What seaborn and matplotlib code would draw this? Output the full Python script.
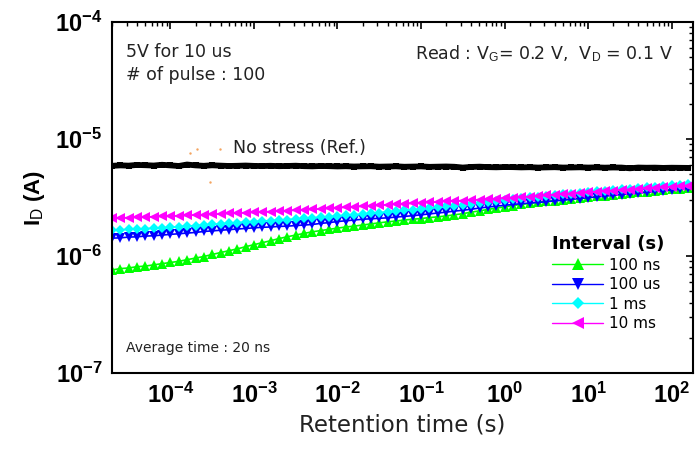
import numpy as np
import pandas as pd
import matplotlib
matplotlib.use("Agg")
import matplotlib.pyplot as plt
from matplotlib.ticker import FixedLocator, FuncFormatter, NullFormatter
import seaborn as sns

# Retention time (s)
time_s = [2.00e-5, 2.51e-5, 3.16e-5, 3.98e-5, 5.01e-5, 6.31e-5, 7.94e-5,
          1.00e-4, 1.26e-4, 1.58e-4, 2.00e-4, 2.51e-4, 3.16e-4, 3.98e-4, 5.01e-4, 6.31e-4, 7.94e-4,
          1.00e-3, 1.26e-3, 1.58e-3, 2.00e-3, 2.51e-3, 3.16e-3, 3.98e-3, 5.01e-3, 6.31e-3, 7.94e-3,
          1.00e-2, 1.26e-2, 1.58e-2, 2.00e-2, 2.51e-2, 3.16e-2, 3.98e-2, 5.01e-2, 6.31e-2, 7.94e-2,
          0.100, 0.126, 0.158, 0.200, 0.251, 0.316, 0.398, 0.501, 0.631, 0.794,
          1.00, 1.26, 1.58, 2.00, 2.51, 3.16, 3.98, 5.01, 6.31, 7.94,
          10.0, 12.6, 15.8, 20.0, 25.1, 31.6, 39.8, 50.1, 63.1, 79.4,
          100.0, 126.0, 158.0]

# Drain current (uA)
ref_uA = [5.90, 5.95, 5.92, 6.00, 5.97, 5.93, 6.02, 5.95, 5.88, 6.05,
          5.95, 5.90, 5.96, 5.92, 5.88, 5.90, 5.93, 5.89, 5.87, 5.90,
          5.86, 5.88, 5.91, 5.86, 5.84, 5.88, 5.86, 5.83, 5.85, 5.82,
          5.84, 5.85, 5.80, 5.82, 5.84, 5.79, 5.81, 5.83, 5.78, 5.80,
          5.82, 5.79, 5.70, 5.77, 5.80, 5.75, 5.73, 5.76, 5.75, 5.72,
          5.74, 5.70, 5.72, 5.74, 5.70, 5.71, 5.73, 5.70, 5.72, 5.69,
          5.71, 5.70, 5.62, 5.70, 5.68, 5.69, 5.66, 5.68, 5.67, 5.66]
int_100ns_uA = [0.76, 0.78, 0.79, 0.81, 0.82, 0.84, 0.86, 0.88, 0.90, 0.93,
                0.96, 0.99, 1.03, 1.07, 1.11, 1.15, 1.20, 1.25, 1.30, 1.35,
                1.41, 1.46, 1.51, 1.56, 1.61, 1.65, 1.69, 1.73, 1.77, 1.80,
                1.84, 1.88, 1.92, 1.96, 1.99, 2.03, 2.06, 2.09, 2.13, 2.16,
                2.20, 2.25, 2.30, 2.37, 2.43, 2.50, 2.57, 2.63, 2.70, 2.76,
                2.82, 2.88, 2.93, 2.98, 3.03, 3.08, 3.13, 3.18, 3.23, 3.28,
                3.33, 3.38, 3.44, 3.49, 3.54, 3.60, 3.65, 3.71, 3.76, 3.82]
int_100us_uA = [1.42, 1.43, 1.45, 1.46, 1.48, 1.49, 1.51, 1.53, 1.55, 1.57,
                1.59, 1.62, 1.64, 1.66, 1.68, 1.70, 1.72, 1.74, 1.76, 1.77,
                1.79, 1.80, 1.82, 1.84, 1.86, 1.90, 1.93, 1.97, 2.00, 2.03,
                2.06, 2.08, 2.10, 2.12, 2.15, 2.18, 2.21, 2.25, 2.29, 2.33,
                2.37, 2.42, 2.46, 2.51, 2.57, 2.62, 2.67, 2.71, 2.76, 2.80,
                2.83, 2.87, 2.91, 2.96, 3.00, 3.05, 3.10, 3.15, 3.20, 3.25,
                3.30, 3.35, 3.40, 3.45, 3.50, 3.56, 3.61, 3.67, 3.72, 3.78]
int_1ms_uA = [1.66, 1.67, 1.69, 1.70, 1.71, 1.73, 1.74, 1.76, 1.78, 1.80,
              1.82, 1.84, 1.86, 1.88, 1.91, 1.93, 1.95, 1.97, 1.99, 2.01,
              2.03, 2.05, 2.07, 2.10, 2.12, 2.15, 2.17, 2.20, 2.23, 2.25,
              2.28, 2.31, 2.35, 2.38, 2.41, 2.45, 2.48, 2.52, 2.56, 2.60,
              2.65, 2.69, 2.74, 2.79, 2.85, 2.90, 2.95, 3.01, 3.06, 3.11,
              3.17, 3.22, 3.27, 3.32, 3.37, 3.42, 3.47, 3.52, 3.57, 3.61,
              3.66, 3.71, 3.77, 3.82, 3.87, 3.91, 3.96, 4.01, 4.07, 4.12]
int_10ms_uA = [2.10, 2.11, 2.13, 2.14, 2.15, 2.17, 2.18, 2.19, 2.21, 2.22,
               2.24, 2.25, 2.27, 2.29, 2.31, 2.33, 2.35, 2.36, 2.38, 2.40,
               2.42, 2.44, 2.46, 2.48, 2.50, 2.53, 2.55, 2.58, 2.61, 2.63,
               2.66, 2.69, 2.71, 2.74, 2.77, 2.79, 2.82, 2.85, 2.87, 2.90,
               2.93, 2.95, 2.98, 3.01, 3.03, 3.06, 3.09, 3.12, 3.15, 3.19,
               3.22, 3.26, 3.30, 3.34, 3.38, 3.42, 3.46, 3.50, 3.54, 3.58,
               3.62, 3.66, 3.70, 3.74, 3.78, 3.82, 3.86, 3.91, 3.95, 4.00]

# a few stray points near the reference trace
stray_t = [1.55e-4, 1.70e-4, 2.10e-4, 3.00e-4, 3.90e-4]
stray_uA = [6.1, 7.6, 8.2, 4.3, 8.2]

interval_labels = ["100 ns", "100 us", "1 ms", "10 ms"]
interval_colors = ["#00ff00", "#0000ff", "#00ffff", "#ff00ff"]
interval_markers = ["^", "v", "D", "<"]
interval_values = [int_100ns_uA, int_100us_uA, int_1ms_uA, int_10ms_uA]

x_major = [1e-4, 1e-3, 1e-2, 1e-1, 1e0, 1e1, 1e2]
y_major = [1e-7, 1e-6, 1e-5, 1e-4]

sns.set_theme(style="white")
plt.rcParams["font.family"] = ["Liberation Sans", "DejaVu Sans"]
plt.rcParams["mathtext.fontset"] = "custom"
plt.rcParams["mathtext.rm"] = "Liberation Sans"
plt.rcParams["mathtext.bf"] = "Liberation Sans:bold"
plt.rcParams["mathtext.it"] = "Liberation Sans"
plt.rcParams["text.color"] = "black"
plt.rcParams["axes.labelcolor"] = "black"
plt.rcParams["xtick.color"] = "black"
plt.rcParams["ytick.color"] = "black"

fig = plt.figure(figsize=(6.98, 4.53), dpi=100)
ax = fig.add_axes([112 / 698, 1 - 373 / 453, (693 - 112) / 698, (373 - 22) / 453])

ref_df = pd.DataFrame({"t": time_s, "I": np.array(ref_uA) * 1e-6})
sns.lineplot(data=ref_df, x="t", y="I", ax=ax, color="black", lw=4.2,
             marker="s", markersize=5, markeredgewidth=0, legend=False)

handles = []
for lab, col, mk, vals in zip(interval_labels, interval_colors, interval_markers, interval_values):
    df = pd.DataFrame({"t": time_s, "I": np.array(vals) * 1e-6})
    sns.lineplot(data=df, x="t", y="I", ax=ax, color=col, lw=1.2, marker=mk,
                 markersize=7.2 if mk != "D" else 5.5, markeredgewidth=0, legend=False)
    handles.append(plt.Line2D([], [], color=col, lw=1, marker=mk,
                              markersize=8 if mk != "D" else 6, markeredgewidth=0))

stray_df = pd.DataFrame({"t": stray_t, "I": np.array(stray_uA) * 1e-6})
sns.scatterplot(data=stray_df, x="t", y="I", ax=ax, color="#f4a460", s=3,
                linewidth=0, legend=False)

ax.set_xscale("log")
ax.set_yscale("log")
ax.set_xlim(2e-5, 180)
ax.set_ylim(1e-7, 1e-4)

fmt = FuncFormatter(lambda v, p: r"$\mathbf{10^{%d}}$" % round(np.log10(v)))
x_minor = [m * 10.0 ** e for e in range(-5, 3) for m in range(2, 10)]
y_minor = [m * 10.0 ** e for e in range(-7, -4) for m in range(2, 10)]
ax.xaxis.set_major_locator(FixedLocator(x_major))
ax.yaxis.set_major_locator(FixedLocator(y_major))
ax.xaxis.set_minor_locator(FixedLocator([v for v in x_minor if 2e-5 <= v <= 180]))
ax.yaxis.set_minor_locator(FixedLocator(y_minor))
ax.xaxis.set_major_formatter(fmt)
ax.yaxis.set_major_formatter(fmt)
ax.xaxis.set_minor_formatter(NullFormatter())
ax.yaxis.set_minor_formatter(NullFormatter())
ax.tick_params(which="both", direction="in", top=True, right=True, color="black")
ax.tick_params(which="major", length=5, width=1.2, labelsize=17, pad=7)
ax.tick_params(which="minor", length=3, width=1)
for s in ax.spines.values():
    s.set_color("black")
    s.set_linewidth(1.5)

ax.set_xlabel("Retention time (s)", fontsize=16.5, family="DejaVu Sans",
              color="#222222", labelpad=4)
ax.set_ylabel(r"I$_\mathrm{D}$ (A)", fontsize=16, labelpad=6, fontweight="bold")

txt = dict(transform=ax.transAxes, family="DejaVu Sans", va="center", color="#222222")
ax.text(0.024, 0.915, "5V for 10 us", fontsize=12.5, **txt)
ax.text(0.024, 0.850, "# of pulse : 100", fontsize=12.5, **txt)
ax.text(0.965, 0.910, r"Read : V$_\mathrm{G}$= 0.2 V,  V$_\mathrm{D}$ = 0.1 V",
        fontsize=12.5, ha="right", **txt)
ax.text(0.208, 0.640, "No stress (Ref.)", fontsize=12.5, **txt)
ax.text(0.024, 0.072, "Average time : 20 ns", fontsize=10, **txt)

leg = ax.legend(handles, interval_labels, title="Interval (s)", frameon=False,
                loc="upper left", bbox_to_anchor=(0.745, 0.415), handlelength=3.3,
                handletextpad=0.4, labelspacing=0.3, borderpad=0,
                prop={"family": "DejaVu Sans", "size": 11},
                title_fontproperties={"family": "DejaVu Sans", "size": 13, "weight": "bold"})
leg._legend_box.align = "left"

fig.savefig("out.png", dpi=100)
